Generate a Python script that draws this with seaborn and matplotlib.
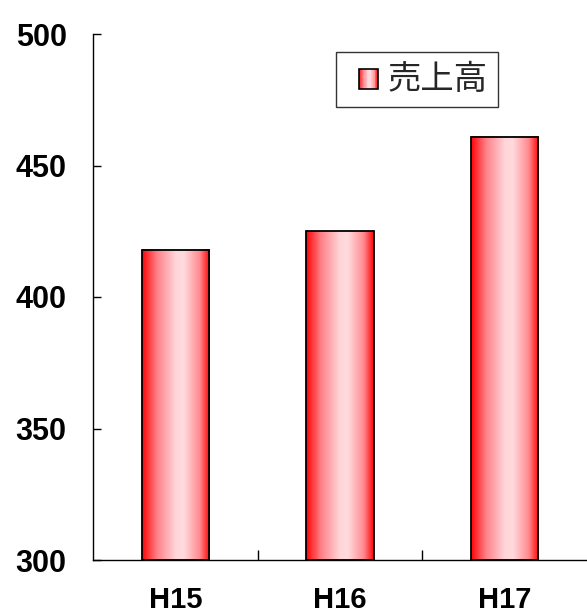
import numpy as np
import pandas as pd
import matplotlib
matplotlib.use("Agg")
import matplotlib.pyplot as plt
from matplotlib.colors import LinearSegmentedColormap
from matplotlib.patches import Rectangle
from matplotlib.legend_handler import HandlerBase
import seaborn as sns

# Sales by fiscal year
years = ["H15", "H16", "H17"]
sales = [418, 425, 461]
series_name = "売上高"
y_ticks = [300, 350, 400, 450, 500]

sns.set_theme(style="white")
plt.rcParams["font.family"] = ["Liberation Sans", "Noto Sans CJK JP", "DejaVu Sans"]

# Horizontal red-pink-red shading used on each bar
bar_cmap = LinearSegmentedColormap.from_list(
    "bar_shade", [(0.0, "#ff0404"), (0.22, "#ff8088"), (0.5, "#ffd6da"),
                  (0.62, "#ffdadd"), (0.85, "#ff8a90"), (1.0, "#ff0404")])

df = pd.DataFrame({"year": years, "sales": sales})
y_min, y_max = 300, 500

fig = plt.figure(figsize=(5.87, 6.15), dpi=100)
ax = fig.add_axes([93 / 587, 55 / 615, 1 - 93 / 587, (560 - 34) / 615])

sns.barplot(data=df, x="year", y="sales", ax=ax, width=0.41,
            color="#ff4040", edgecolor="black", linewidth=1.3, zorder=2)

ax.set_xlim(-0.5, 2.5)
ax.set_ylim(y_min, y_max)

# Paint the gradient inside the visible part of each bar
grad = np.linspace(0, 1, 256).reshape(1, -1)
for bar in ax.patches:
    x0, w = bar.get_x(), bar.get_width()
    top = bar.get_y() + bar.get_height()
    bar.set_facecolor("none")
    bar.set_edgecolor("none")
    ax.imshow(grad, cmap=bar_cmap, aspect="auto",
              extent=(x0, x0 + w, y_min, top), zorder=2.1,
              interpolation="bilinear")
    ax.add_patch(Rectangle((x0, y_min), w, top - y_min, fill=False,
                           edgecolor="black", linewidth=1.3, zorder=2.2,
                           clip_on=False))
ax.set_xlim(-0.5, 2.5)
ax.set_ylim(y_min, y_max)

ax.set_yticks(y_ticks)
ax.set_yticklabels([str(v) for v in y_ticks])
ax.set_xlabel("")
ax.set_ylabel("")

sns.despine(ax=ax, top=True, right=True)
for side in ("left", "bottom"):
    ax.spines[side].set_color("black")
    ax.spines[side].set_linewidth(1.0)
    ax.spines[side].set_zorder(3)

ax.tick_params(axis="y", direction="in", length=6, width=1, color="black",
               left=True, pad=19, labelsize=22, labelcolor="black")
ax.tick_params(axis="x", which="major", length=0, pad=19, labelsize=21,
               labelcolor="black")
ax.set_xticks([0.5, 1.5], minor=True)
ax.tick_params(axis="x", which="minor", direction="in", length=7, width=1,
               color="black", bottom=True)
for lbl in ax.get_xticklabels() + ax.get_yticklabels():
    lbl.set_fontweight("bold")


class GradientPatchHandler(HandlerBase):
    """Legend key drawn as a small square with the same shading as the bars."""

    def create_artists(self, legend, orig_handle, xdescent, ydescent,
                       width, height, fontsize, trans):
        w = 19 * 72 / 100
        h = 20 * 72 / 100
        x0 = -xdescent + width - w
        y0 = -ydescent + (height - h) / 2 - 1
        n = 24
        arts = []
        for i in range(n):
            c = bar_cmap((i + 0.5) / n)
            arts.append(Rectangle((x0 + i * w / n, y0), w / n + 0.2, h,
                                  facecolor=c, edgecolor="none",
                                  transform=trans))
        arts.append(Rectangle((x0, y0), w, h, fill=False, edgecolor="black",
                              linewidth=1.2, transform=trans))
        return arts


proxy = Rectangle((0, 0), 1, 1)
leg = ax.legend([proxy], [series_name],
                handler_map={Rectangle: GradientPatchHandler()},
                loc="upper left",
                bbox_to_anchor=(336 / 587, 1 - 52 / 615),
                bbox_transform=fig.transFigure,
                frameon=True, fancybox=False,
                prop={"family": ["Noto Sans CJK JP"], "size": 24},
                handlelength=0.95, handleheight=0.7, handletextpad=0.3,
                borderpad=0.3, borderaxespad=0)
leg.get_frame().set_edgecolor("black")
leg.get_frame().set_linewidth(1.0)

fig.savefig("out.png", dpi=100, facecolor="white")
